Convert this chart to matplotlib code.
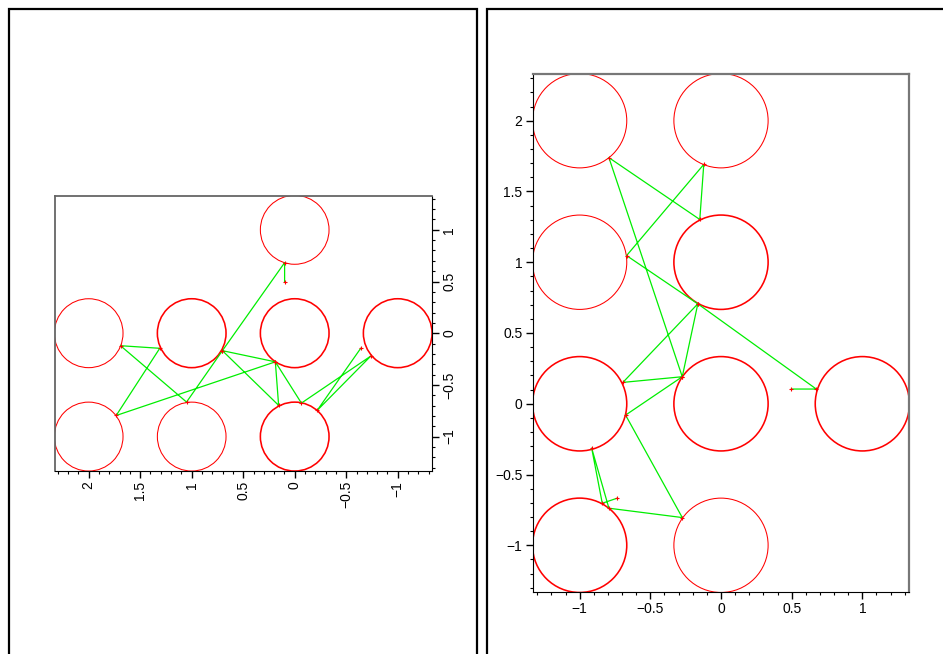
import matplotlib
matplotlib.use("Agg")
import matplotlib.pyplot as plt
from matplotlib.patches import Circle, Rectangle
from matplotlib.ticker import MultipleLocator, FuncFormatter

plt.rcParams['font.family'] = ['Liberation Sans', 'DejaVu Sans']

# ---------------- data ----------------
R = 1.0 / 3.0

# left panel (drawn rotated: horizontal axis = y reversed, vertical axis = x)
left_cx = [1, 0, 0, 0, 0, -1, -1, -1]
left_cy = [0, 2, 1, 0, -1, 2, 1, 0]
left_heavy = [False, False, True, True, True, False, False, True]
left_px = [0.497, 0.682, -0.169, -0.666, -0.121, -0.146, -0.796, -0.277,
           -0.169, -0.698, -0.277, -0.676, -0.221, -0.747, -0.146]
left_py = [0.098, 0.098, 0.702, 1.050, 1.691, 1.310, 1.733, 0.188,
           0.702, 0.156, 0.188, -0.065, -0.739, -0.218, -0.641]

# right panel
right_cx = [-1, 0, -1, 0, -1, 0, 1, -1, 0]
right_cy = [2, 2, 1, 1, 0, 0, 0, -1, -1]
right_heavy = [False, False, False, True, True, True, True, True, False]
right_px = [0.498, 0.674, -0.164, -0.668, -0.122, -0.150, -0.793, -0.274,
            -0.694, -0.164, -0.274, -0.675, -0.274, -0.793, -0.915, -0.840, -0.734]
right_py = [0.104, 0.104, 0.706, 1.047, 1.691, 1.302, 1.739, 0.191,
            0.151, 0.706, 0.191, -0.080, -0.804, -0.738, -0.313, -0.703, -0.667]

x_lim = (-1.33, 1.33)
y_lim = (-1.33, 2.33)

# ---------------- figure ----------------
W, H = 943, 654
fig = plt.figure(figsize=(W / 100, H / 100), dpi=100)

def fx(px):
    return px / W

def fy(py):
    return 1 - py / H

# panel frames
fig.add_artist(Rectangle((fx(9), fy(700)), fx(477) - fx(9), fy(9) - fy(700),
                         transform=fig.transFigure, fill=False, lw=1.6, ec='black'))
fig.add_artist(Rectangle((fx(486.5), fy(700)), fx(1000) - fx(486.5), fy(9) - fy(700),
                         transform=fig.transFigure, fill=False, lw=1.6, ec='black'))

fmt = FuncFormatter(lambda v, p: ('%g' % v).replace('-', '\u2212'))
GREEN = '#00ee00'
RED = '#ff0000'


def style_axes(ax):
    ax.xaxis.set_major_locator(MultipleLocator(0.5))
    ax.xaxis.set_minor_locator(MultipleLocator(0.1))
    ax.yaxis.set_major_locator(MultipleLocator(0.5))
    ax.yaxis.set_minor_locator(MultipleLocator(0.1))
    ax.xaxis.set_major_formatter(fmt)
    ax.yaxis.set_major_formatter(fmt)
    ax.tick_params(which='major', direction='out', length=5, width=1,
                   labelsize=10, pad=2.5)
    ax.tick_params(which='minor', direction='out', length=2.5, width=0.8)


# ---------- left (rotated) panel ----------
axL = fig.add_axes([fx(54.7), fy(470.7), fx(431.7) - fx(54.7), fy(195.7) - fy(470.7)])
for cx, cy, hv in zip(left_cx, left_cy, left_heavy):
    axL.add_patch(Circle((cy, cx), R, fill=False, ec=RED, lw=1.15 if hv else 0.75))
axL.plot(left_py, left_px, color=GREEN, lw=0.9)
axL.plot(left_py, left_px, ls='none', marker='+', ms=2.5, mew=0.8, color=RED)
axL.set_xlim(y_lim[1], y_lim[0])
axL.set_ylim(*x_lim)
style_axes(axL)
axL.yaxis.tick_right()
axL.xaxis.tick_bottom()
for lab in axL.get_xticklabels():
    lab.set_rotation(90)
for lab in axL.get_yticklabels():
    lab.set_rotation(90)
    lab.set_va('center')
for s in ['left', 'top']:
    axL.spines[s].set_color('#666666')
    axL.spines[s].set_linewidth(1.3)

# ---------- right panel ----------
axR = fig.add_axes([fx(533), fy(592), fx(909) - fx(533), fy(74) - fy(592)])
for cx, cy, hv in zip(right_cx, right_cy, right_heavy):
    axR.add_patch(Circle((cx, cy), R, fill=False, ec=RED, lw=1.15 if hv else 0.75))
axR.plot(right_px, right_py, color=GREEN, lw=0.9)
axR.plot(right_px, right_py, ls='none', marker='+', ms=2.5, mew=0.8, color=RED)
axR.set_xlim(*x_lim)
axR.set_ylim(*y_lim)
style_axes(axR)
axR.yaxis.tick_left()
axR.xaxis.tick_bottom()
for s in ['right', 'top']:
    axR.spines[s].set_color('#777777')
    axR.spines[s].set_linewidth(1.6)

fig.savefig('out.png', dpi=100)
